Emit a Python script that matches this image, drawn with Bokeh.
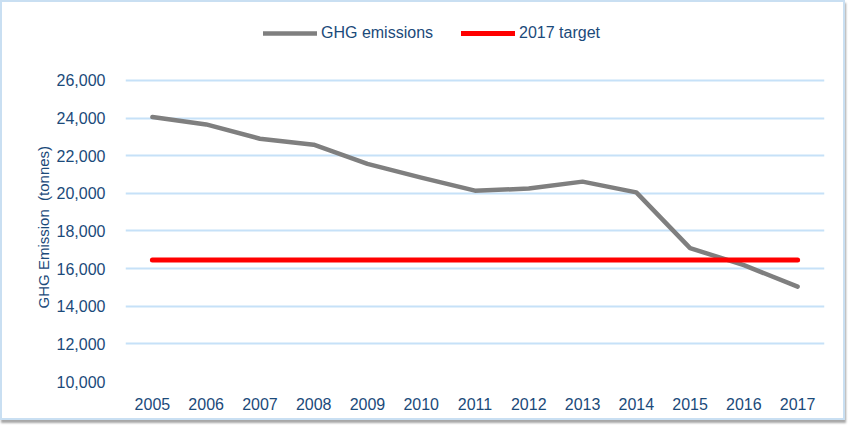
from bokeh.plotting import figure
from bokeh.models import (FactorRange, Range1d, FixedTicker, NumeralTickFormatter,
                          Legend, LegendItem, Title)
from bokeh.embed import file_html
from bokeh.resources import INLINE

years = ["2005", "2006", "2007", "2008", "2009", "2010", "2011",
         "2012", "2013", "2014", "2015", "2016", "2017"]
ghg_emissions = [24050, 23660, 22900, 22580, 21560, 20830, 20140,
                 20250, 20620, 20050, 17090, 16180, 15040]
target_2017 = 16460
y_ticks = [10000, 12000, 14000, 16000, 18000, 20000, 22000, 24000, 26000]
y_label = "GHG Emission\u00a0\u00a0(tonnes)"

TEXT = "#1B4A7A"
FONT = "Liberation Sans"

# the frame reaches up to the legend row; grid lines only at the fixed ticks
p = figure(width=845, height=420, output_backend="svg", toolbar_location=None,
           x_range=FactorRange(factors=years, range_padding=0),
           y_range=Range1d(10000, 29500),
           min_border_left=123, min_border_right=23,
           min_border_top=12, min_border_bottom=41,
           background_fill_color="white", border_fill_color="white",
           styles={"border": "2px solid #C9DFF2",
                   "box-shadow": "1px 3px 2px #A8A8A8"})
p.outline_line_color = None

r1 = p.line(years, ghg_emissions, line_color="#7F7F7F", line_width=4.5,
            line_cap="round", line_join="round")
r2 = p.line([years[0], years[-1]], [target_2017, target_2017],
            line_color="#FF0000", line_width=5, line_cap="round")

p.xgrid.grid_line_color = None
p.ygrid.grid_line_color = "#C6E1F8"
p.ygrid.grid_line_width = 2

yax = p.yaxis[0]
xax = p.xaxis[0]
yax.ticker = FixedTicker(ticks=y_ticks)
yax.formatter = NumeralTickFormatter(format="0,0")
for ax in (xax, yax):
    ax.axis_line_color = None
    ax.major_tick_line_color = None
    ax.minor_tick_line_color = None
    ax.major_label_text_font = FONT
    ax.major_label_text_font_size = "16px"
    ax.major_label_text_color = TEXT
yax.major_label_standoff = 14
xax.major_label_standoff = 10

# axis title; trailing no-break spaces move the visible text down so that it is
# centred on the 10,000-26,000 band rather than on the taller frame
p.add_layout(Title(text=y_label + "\u00a0" * 14, align="center", standoff=4,
                   text_font=FONT, text_font_size="15px", text_font_style="normal",
                   text_color=TEXT), "left")

legend = Legend(items=[LegendItem(label="GHG emissions", renderers=[r1]),
                       LegendItem(label="2017 target", renderers=[r2])],
                orientation="horizontal", location=(138, 339),
                padding=0, margin=0, spacing=28, glyph_width=54, glyph_height=16,
                label_standoff=4, label_text_font=FONT, label_text_font_size="16px",
                label_text_color=TEXT, border_line_color=None,
                background_fill_alpha=0)
p.add_layout(legend, "center")

open("out.html", "w").write(file_html(p, INLINE))
